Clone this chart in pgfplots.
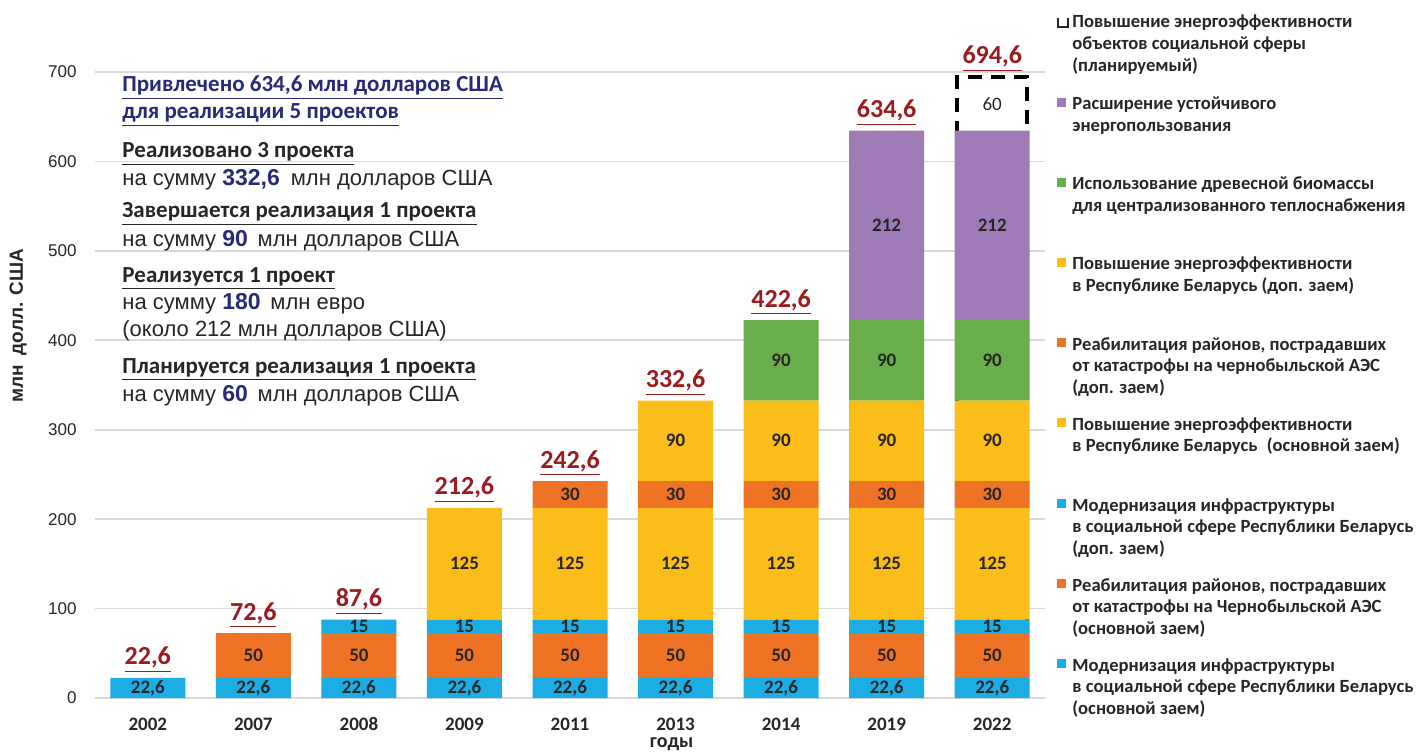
\documentclass[border=0pt]{standalone}
\usepackage{pgfplots}
\pgfplotsset{compat=1.18}
\usepackage{pgfplotstable}
\usepackage{fontspec}
\setmainfont{Carlito}
\newfontfamily\arial{Liberation Sans}

\definecolor{cmod}{HTML}{1BADE3}
\definecolor{corg}{HTML}{EE7324}
\definecolor{cyel}{HTML}{FBBD19}
\definecolor{cgrn}{HTML}{6AAE4B}
\definecolor{cpur}{HTML}{9E7BB6}
\definecolor{cred}{HTML}{9B1B1E}
\definecolor{cnavy}{HTML}{262A78}
\definecolor{ctxt}{HTML}{262626}
\definecolor{cgrid}{HTML}{D9D9D9}

% segments, bottom to top
\pgfplotstableread{
x  a    b  c  d   e  f  g  h   i
0  22.6 0  0  0   0  0  0  0   0
1  22.6 50 0  0   0  0  0  0   0
2  22.6 50 15 0   0  0  0  0   0
3  22.6 50 15 125 0  0  0  0   0
4  22.6 50 15 125 30 0  0  0   0
5  22.6 50 15 125 30 90 0  0   0
6  22.6 50 15 125 30 90 90 0   0
7  22.6 50 15 125 30 90 90 212 0
8  22.6 50 15 125 30 90 90 212 60
}\segs

\pgfplotstableread{
x total
0 22.6
1 72.6
2 87.6
3 212.6
4 242.6
5 332.6
6 422.6
7 634.6
8 694.6
}\totals

\pgfplotsset{
  frame/.style={at={(47.5pt,26.5pt)}, anchor=south west,
    scale only axis, width=475pt, height=313pt,
    xmin=-0.5, xmax=8.5, ymin=0, ymax=700, clip=false,
    /pgf/number format/assume math mode=true,
    /pgf/number format/use comma, /pgf/number format/1000 sep={}},
  seg/.style 2 args={draw=none, fill=#1, point meta=\thisrow{#2}},
}

\newcommand\legitem[3]{%
  \fill[#2] (528.5pt,{#1pt+1.3pt}) rectangle ++(4.6pt,4.6pt);
  \node[anchor=base west, inner sep=0pt, text=ctxt] at (536pt,#1pt)
    {\parbox[t]{190pt}{\fontsize{9.3}{10.8}\selectfont\bfseries\raggedright #3}};}

\begin{document}
\begin{tikzpicture}
\useasboundingbox (0,0) rectangle (708.5pt,375.5pt);

% planned project: dashed outline, lower part hidden behind the stacked bar
\begin{axis}[frame, hide axis, ybar, bar width=35pt, clip=true]
\addplot[fill=white, draw=black, line width=2pt, dash pattern=on 7pt off 4.5pt]
  coordinates {(8,694.6)};
\end{axis}

\begin{axis}[frame,
  ybar stacked, bar width=37.5pt,
  axis line style={draw=none}, tick style={draw=none},
  ymajorgrids, grid style={cgrid, line width=0.9pt},
  ytick={0,100,...,700},
  xtick={0,...,8},
  xticklabels={2002,2007,2008,2009,2011,2013,2014,2019,2022},
  xticklabel style={font=\fontsize{9.5}{11}\selectfont\bfseries, text=ctxt, inner sep=0pt,
    text height=6.5pt, text depth=0pt, yshift=-9.5pt},
  yticklabel style={font=\arial\fontsize{8.5}{10}\selectfont, text=ctxt, inner sep=0pt, xshift=-9pt},
  ylabel={млн\enspace долл. США},
  every axis y label/.style={at={(rel axis cs:-0.081,0.595)}, rotate=90, anchor=center,
    font=\arial\fontsize{9.5}{11}\selectfont\bfseries, text=ctxt},
  xlabel={годы},
  every axis x label/.style={at={(rel axis cs:0.607,-0.0623)}, anchor=north, inner sep=0pt,
    font=\fontsize{10}{12}\selectfont\bfseries, text=ctxt},
  nodes near coords={\pgfmathfloatifflags{\pgfplotspointmeta}{0}{}{\pgfmathprintnumber{\pgfplotspointmeta}}},
  every node near coord/.append style={font=\fontsize{9.5}{11}\selectfont\bfseries, text=ctxt,
    anchor=center},
]
\addplot[seg={cmod}{a}] table[x=x,y=a]{\segs};
\addplot[seg={corg}{b}] table[x=x,y=b]{\segs};
\addplot[seg={cmod}{c}] table[x=x,y=c]{\segs};
\addplot[seg={cyel}{d}] table[x=x,y=d]{\segs};
\addplot[seg={corg}{e}] table[x=x,y=e]{\segs};
\addplot[seg={cyel}{f}] table[x=x,y=f]{\segs};
\addplot[seg={cgrn}{g}] table[x=x,y=g]{\segs};
\addplot[seg={cpur}{h}] table[x=x,y=h]{\segs};
\addplot[seg={none}{i}, fill=none,
  nodes near coords={\pgfmathfloatifflags{\pgfplotspointmeta}{0}{}{\mdseries\pgfmathprintnumber{\pgfplotspointmeta}}}]
  table[x=x,y=i]{\segs};
\end{axis}

\begin{axis}[frame, hide axis, ybar, bar width=37.5pt,
  nodes near coords={\underline{\pgfmathprintnumber{\pgfplotspointmeta}}},
  every node near coord/.append style={font=\fontsize{13}{15}\selectfont\bfseries, text=cred,
    anchor=south, inner sep=0pt, yshift=2.5pt}]
\addplot[draw=none, fill=none] table[x=x,y=total]{\totals};
\end{axis}

% notes on the left
\begin{scope}[every node/.style={anchor=base west, inner sep=0pt, text=ctxt}]
\newcommand\hd{\fontsize{11.5}{13}\selectfont\bfseries}
\newcommand\rg{\arial\fontsize{11}{13}\selectfont}
\newcommand\nm[1]{{\fontsize{11.5}{13}\selectfont\bfseries\color{cnavy}#1}}
\node[text=cnavy] at (61pt,329.6pt) {\hd\underline{Привлечено 634,6 млн долларов США}};
\node[text=cnavy] at (61pt,316.3pt) {\hd\underline{для реализации 5 проектов}};
\node at (61pt,296.5pt) {\hd\underline{Реализовано 3 проекта}};
\node at (61pt,282.5pt) {\rg на сумму \nm{332,6}\enspace млн долларов США};
\node at (61pt,266.5pt) {\hd\underline{Завершается реализация 1 проекта}};
\node at (61pt,252.5pt) {\rg на сумму \nm{90}\, млн долларов США};
\node at (61pt,234.5pt) {\hd\underline{Реализуется 1 проект}};
\node at (61pt,221pt) {\rg на сумму \nm{180}\, млн евро};
\node at (61pt,207.5pt) {\rg (около 212 млн долларов США)};
\node at (61pt,189pt) {\hd\underline{Планируется реализация 1 проекта}};
\node at (61pt,175pt) {\rg на сумму \nm{60}\, млн долларов США};
\end{scope}

% legend
\draw[ctxt, line width=1pt] (529pt,366.5pt) -- (529pt,362pt) -- (534pt,362pt) -- (534pt,366.5pt);
\node[anchor=base west, inner sep=0pt, text=ctxt] at (536pt,361.5pt)
  {\parbox[t]{190pt}{\fontsize{9.3}{10.8}\selectfont\bfseries\raggedright Повышение энергоэффективности\\объектов социальной сферы\\(планируемый)}};
\legitem{320.5}{cpur}{Расширение устойчивого\\энергопользования}
\legitem{280.5}{cgrn}{Использование древесной биомассы\\для централизованного теплоснабжения}
\legitem{240.5}{cyel}{Повышение энергоэффективности\\в Республике Беларусь (доп. заем)}
\legitem{200.5}{corg}{Реабилитация районов, пострадавших\\от катастрофы на чернобыльской АЭС\\(доп. заем)}
\legitem{160.5}{cyel}{Повышение энергоэффективности\\в Республике Беларусь\enspace(основной заем)}
\legitem{120}{cmod}{Модернизация инфраструктуры\\в социальной сфере Республики Беларусь\\(доп. заем)}
\legitem{80}{corg}{Реабилитация районов, пострадавших\\от катастрофы на Чернобыльской АЭС\\(основной заем)}
\legitem{40}{cmod}{Модернизация инфраструктуры\\в социальной сфере Республики Беларусь\\(основной заем)}
\end{tikzpicture}
\end{document}
